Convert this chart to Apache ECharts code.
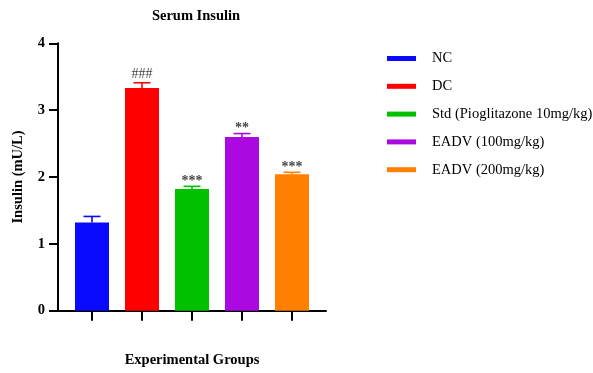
<!DOCTYPE html>
<html>
<head>
<meta charset="utf-8">
<script src="https://cdn.jsdelivr.net/npm/echarts@6/dist/echarts.min.js"></script>
<style>
  html, body { margin: 0; padding: 0; background: #fff; }
  #chart { width: 593px; height: 373px; }
</style>
</head>
<body>
<div id="chart"></div>
<script>
// Serum insulin per experimental group (mean and SEM, mU/L)
const groups = ['NC', 'DC', 'Std (Pioglitazone 10mg/kg)', 'EADV (100mg/kg)', 'EADV (200mg/kg)'];
const means = [1.32, 3.33, 1.82, 2.60, 2.04];
const sems = [0.09, 0.08, 0.04, 0.05, 0.03];
const marks = ['', '###', '***', '**', '***'];
const colors = ['#0a0aff', '#ff0000', '#00c000', '#aa0ae0', '#ff8000'];
const yTicks = [0, 1, 2, 3, 4];

const FONT = 'Liberation Serif';
const chart = echarts.init(document.getElementById('chart'));

const barSeries = groups.map((g, i) => ({
  name: g,
  type: 'bar',
  data: [[i, means[i]]],
  barWidth: 34,
  barGap: '-100%',
  itemStyle: { color: colors[i] },
  z: 2
}));

// Upper error whiskers with caps, plus significance marks above them
const errSeries = {
  type: 'custom',
  name: 'err',
  data: groups.map((g, i) => [i, means[i], sems[i]]),
  z: 3,
  renderItem: function (params, api) {
    const i = api.value(0);
    const top = api.coord([i, api.value(1) + api.value(2)]);
    const base = api.coord([i, api.value(1)]);
    const half = 8.5;
    const c = colors[params.dataIndex];
    const children = [
      { type: 'line', shape: { x1: base[0], y1: base[1], x2: top[0], y2: top[1] },
        style: { stroke: c, lineWidth: 1.6 } },
      { type: 'line', shape: { x1: top[0] - half, y1: top[1], x2: top[0] + half, y2: top[1] },
        style: { stroke: c, lineWidth: 1.6 } }
    ];
    const m = marks[params.dataIndex];
    if (m) {
      const isStar = m.charAt(0) === '*';
      children.push({
        type: 'text',
        style: {
          text: m, x: top[0], y: top[1] - (isStar ? -2 : 1),
          align: 'center', verticalAlign: 'bottom',
          fill: '#444', font: (isStar ? 'bold 14px "' : '14px "') + FONT + '"'
        }
      });
    }
    return { type: 'group', children: children };
  }
};

const axisFont = { fontFamily: FONT, fontWeight: 'bold', fontSize: 14.5, color: '#000' };

chart.setOption({
  animation: false,
  backgroundColor: '#fff',
  title: {
    text: 'Serum Insulin',
    left: 191, top: 4,
    textAlign: 'center',
    textStyle: axisFont
  },
  legend: {
    data: groups,
    orient: 'vertical',
    left: 387, top: 51,
    padding: 0,
    itemWidth: 29, itemHeight: 5,
    itemGap: 12.8,
    icon: 'rect',
    textStyle: { fontFamily: FONT, fontSize: 14.5, color: '#000', lineHeight: 14, padding: [0, 0, 0, 11] }
  },
  grid: { left: 58, right: 267, top: 43.3, bottom: 373 - 310.7, outerBoundsMode: 'none', containLabel: false },
  xAxis: {
    type: 'value',
    min: -0.68, max: 4.68,
    name: 'Experimental Groups',
    nameLocation: 'middle',
    nameGap: 42,
    nameTextStyle: axisFont,
    splitLine: { show: false },
    axisLine: { onZero: false, lineStyle: { color: '#000', width: 2 } },
    axisTick: { show: true, customValues: [0, 1, 2, 3, 4], length: 10, lineStyle: { color: '#000', width: 2 } },
    axisLabel: { show: false }
  },
  yAxis: {
    type: 'value',
    min: 0, max: 4, interval: 1,
    name: 'Insulin (mU/L)',
    nameLocation: 'middle',
    nameGap: 32,
    nameTextStyle: axisFont,
    splitLine: { show: false },
    axisLine: { show: true, onZero: false, lineStyle: { color: '#000', width: 2 } },
    axisTick: { show: true, length: 9, lineStyle: { color: '#000', width: 2 } },
    axisLabel: {
      fontFamily: FONT, fontWeight: 'bold', fontSize: 14.5, color: '#000', margin: 13,
      formatter: v => yTicks.includes(v) ? String(v) : ''
    }
  },
  series: barSeries.concat([errSeries])
});
</script>
</body>
</html>
